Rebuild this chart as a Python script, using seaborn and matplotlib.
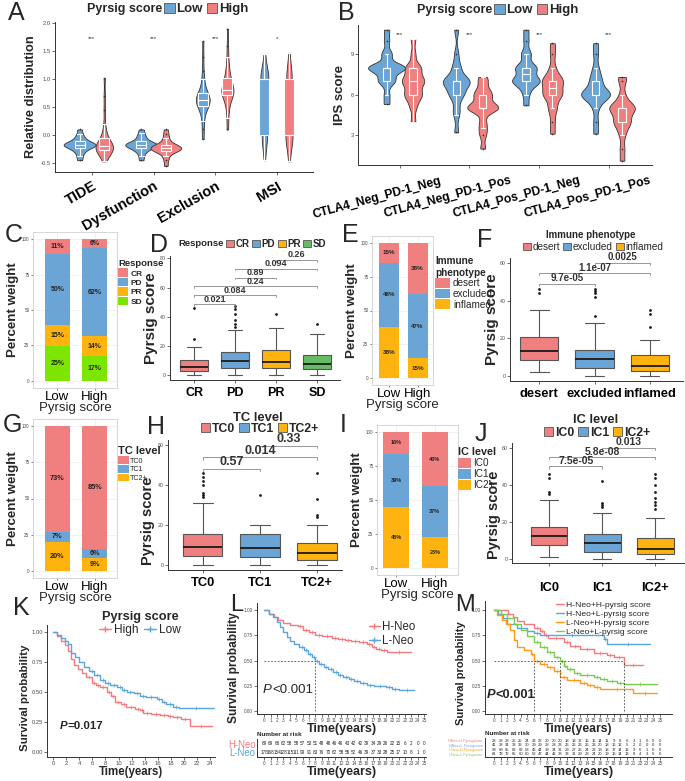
import numpy as np
import pandas as pd
import matplotlib
matplotlib.use("Agg")
import matplotlib.pyplot as plt
import seaborn as sns
from matplotlib.patches import Patch
from matplotlib.lines import Line2D
from matplotlib.transforms import ScaledTranslation

sns.set_theme(style="white")
plt.rcParams['font.family'] = ['Liberation Sans', 'DejaVu Sans']

W, H = 685, 781
RED = "#F08080"
BLUE = "#6AA5D5"
GOLD = "#FFB30F"
LIME = "#7CE600"
GREEN = "#66BB66"
KRED = "#F47A7E"
KBLUE = "#5AA5DC"
KORANGE = "#FF9A1A"
KGREEN = "#7CCB50"

# ---------------- data ----------------
# A: TIDE analysis
a_vars = ['TIDE', 'Dysfunction', 'Exclusion', 'MSI']
a_sig = ['***', '***', '***', '*']
tide_low = [-0.45, -0.38, -0.32, -0.28, -0.25, -0.23, -0.21, -0.2, -0.19, -0.18, -0.17, -0.16, -0.15,
            -0.14, -0.12, -0.1, -0.07, -0.03, 0.02, 0.1]
tide_high = [-0.47, -0.4, -0.35, -0.31, -0.29, -0.27, -0.26, -0.25, -0.24, -0.23, -0.22, -0.21, -0.2,
             -0.19, -0.18, -0.16, -0.14, -0.1, -0.05, 0.0, 0.05, 0.2, 0.45, 0.7, 1.02]
dys_low = [-0.45, -0.37, -0.31, -0.27, -0.25, -0.23, -0.21, -0.2, -0.19, -0.18, -0.17, -0.16, -0.15,
           -0.14, -0.12, -0.1, -0.06, -0.02, 0.03, 0.1]
dys_high = [-0.55, -0.45, -0.38, -0.33, -0.3, -0.28, -0.27, -0.26, -0.25, -0.24, -0.23, -0.22, -0.21,
            -0.2, -0.18, -0.17, -0.15, -0.1, -0.05, 0.02, 0.1]
exc_low = [-0.07, 0.1, 0.25, 0.38, 0.45, 0.49, 0.52, 0.55, 0.57, 0.59, 0.61, 0.62, 0.63, 0.65, 0.67,
           0.69, 0.71, 0.73, 0.75, 0.82, 0.9, 1.0, 1.15, 1.4, 1.68]
exc_high = [0.1, 0.3, 0.45, 0.55, 0.62, 0.67, 0.72, 0.74, 0.76, 0.77, 0.78, 0.79, 0.8, 0.83, 0.86,
            0.9, 0.94, 0.98, 1.02, 1.08, 1.15, 1.25, 1.4, 1.6, 1.9]
msi_low = [-0.45, -0.2, 0, 0, 0, 0, 0, 0.5, 1, 1, 1, 1, 1, 1, 1, 1, 1.2, 1.45]
msi_high = [-0.47, -0.25, 0, 0, 0, 0, 0, 0, 0, 0.5, 1, 1, 1, 1, 1, 1.2, 1.47]

# B: IPS score
b_groups = ['CTLA4_Neg_PD-1_Neg', 'CTLA4_Neg_PD-1_Pos', 'CTLA4_Pos_PD-1_Neg', 'CTLA4_Pos_PD-1_Pos']
ips_nn_low = [5.3, 6, 7, 7, 7, 7.5, 8, 8, 8, 8, 8, 8, 8, 9, 9, 10, 10.8]
ips_nn_high = [4, 5, 5.5, 6, 6, 6, 6.5, 7, 7, 7, 7, 7.5, 8, 8, 8, 9, 10.1]
ips_np_low = [3.2, 4.5, 5, 6, 6, 6, 6.5, 7, 7, 7, 7, 7, 7, 8, 8, 9, 10.8]
ips_np_high = [2, 3, 3.5, 4, 5, 5, 5, 5, 5, 5, 5.5, 6, 6, 6, 6.5, 7, 7.3]
ips_pn_low = [5.2, 6, 6.5, 7, 7, 7, 7, 7, 7.5, 8, 8, 8, 8, 9, 9, 10, 10.8]
ips_pn_high = [3.1, 4, 5, 5, 6, 6, 6, 6, 6.5, 7, 7, 7, 7, 7.5, 8, 9, 9.8]
ips_pp_low = [3.1, 4, 5, 5.5, 6, 6, 6, 6, 6, 6, 6.5, 7, 7, 7.5, 8, 9, 9.8]
ips_pp_high = [1.1, 2, 3, 3.5, 4, 4, 4, 4.5, 5, 5, 5, 5, 5, 5.5, 6, 7, 7.3]

# C / E / G / I: percent composition (Low, High)
resp_levels = ['CR', 'PD', 'PR', 'SD']
resp_low = [10.7, 50.0, 14.6, 24.7]
resp_high = [6.2, 62.4, 14.0, 17.4]
pheno_levels = ['desert', 'excluded', 'inflamed']
pheno_low = [14.6, 47.6, 37.8]
pheno_high = [38.0, 47.0, 15.0]
tc_levels = ['TC0', 'TC1', 'TC2+']
tc_low = [73.0, 7.0, 20.0]
tc_high = [85.0, 6.0, 9.0]
ic_levels = ['IC0', 'IC1', 'IC2+']
ic_low = [16.0, 39.0, 45.0]
ic_high = [40.0, 37.0, 23.0]

# D: Pyrsig score by response
d_cr = [0, 0.5, 1, 2, 2.5, 3, 4, 5, 5.5, 6.5, 8, 9, 10.5, 14, 19, 25, 46]
d_pd = [0, 1, 2, 3, 3.5, 4, 4.5, 4.8, 5, 5.5, 6, 6.5, 7, 7.8, 8.5, 9, 9.5, 10, 11, 11.5, 12, 13, 14,
        15, 15.5, 22, 31, 33, 35, 38, 42, 45, 47]
d_pr = [0, 1.5, 3, 4, 5, 6, 7, 8, 9, 11, 13, 15, 17, 20, 26, 32, 42]
d_sd = [0, 1, 2, 3, 4, 5, 6, 7, 7.5, 9, 11, 12.5, 14, 18, 22, 28, 35]
d_tests = [('CR', 'PD', '0.021'), ('CR', 'PR', '0.084'), ('CR', 'SD', '0.24'),
           ('PD', 'PR', '0.89'), ('PD', 'SD', '0.094'), ('PR', 'SD', '0.26')]

# F: Pyrsig score by immune phenotype
f_desert = [2, 4, 6, 7.5, 8.5, 10, 11.5, 12.5, 13.5, 15, 17, 19, 20.5, 25, 35, 44, 46]
f_excluded = [0, 0.5, 1.5, 2.5, 3, 3.5, 4, 4.5, 5, 6, 6.5, 7, 7.5, 8.5, 9, 9.5, 10, 11, 11.5, 12.5,
              13, 14, 18, 28, 32, 42, 44, 45, 46]
f_inflamed = [0, 0.5, 1, 2, 2.5, 3, 4, 5, 5.5, 6.5, 8, 9.5, 11, 19, 26, 33, 35]
f_tests = [('desert', 'excluded', '9.7e-05'), ('desert', 'inflamed', '1.1e-07'),
           ('excluded', 'inflamed', '0.0025')]

# H: Pyrsig score by TC level
h_tc0 = [0, 0.5, 1, 2, 2.5, 3, 3.5, 4, 4.5, 5, 5.5, 6, 6.5, 7, 7.5, 8, 9, 10, 11, 11.5, 12, 13, 14,
         15, 15.5, 31, 34, 35, 36, 40, 42, 44, 46]
h_tc1 = [0, 1, 2, 3, 4, 5, 6, 7, 8.5, 10, 12, 14, 15.5, 17, 18.5, 20, 35]
h_tc2 = [0, 0.5, 1, 1.5, 2, 2.5, 3, 3.5, 4, 5, 6, 7, 8, 9, 10, 11, 20, 24, 25, 33, 46]
h_tests = [('TC0', 'TC1', '0.57'), ('TC0', 'TC2+', '0.014'), ('TC1', 'TC2+', '0.33')]

# J: Pyrsig score by IC level
j_ic0 = [1, 2.5, 4, 5.5, 6.5, 7.5, 8.5, 9.5, 10.5, 11.5, 12.5, 13.5, 14.5, 15.5, 16.5, 17.5,
         32, 35, 36, 44, 46]
j_ic1 = [0, 0.5, 1.5, 2.5, 3, 4, 5, 6, 7, 8, 8.5, 9.5, 10.5, 11.5, 12.5, 13.5, 25, 28, 29, 30, 42]
j_ic2 = [0, 0.3, 0.6, 1, 1.3, 1.6, 1.9, 2.1, 2.3, 2.5, 3, 3.3, 3.6, 4, 4.3, 4.6, 5, 5.2, 5.5,
         6, 6.5, 7, 7.5, 8, 8.8, 9.6, 10.5, 11.5, 22, 27, 29, 31, 33, 36, 40, 44, 46]
j_tests = [('IC0', 'IC1', '7.5e-05'), ('IC0', 'IC2+', '5.8e-08'), ('IC1', 'IC2+', '0.013')]

# K: survival by Pyrsig score
k_high_t = [0, 0.6, 1.2, 1.8, 2.3, 2.7, 3.2, 3.8, 4.4, 5.1, 5.9, 6.6, 7.2, 8.2, 8.8, 9.5, 10.4, 11.2,
            12.5, 13.3, 13.8, 15.0, 16.3, 17.5, 18.3, 19.5, 20.9, 24.3]
k_high_s = [1.0, 0.97, 0.93, 0.89, 0.84, 0.78, 0.73, 0.69, 0.66, 0.63, 0.58, 0.56, 0.54, 0.50, 0.47,
            0.42, 0.40, 0.375, 0.36, 0.35, 0.33, 0.32, 0.31, 0.30, 0.29, 0.28, 0.22, 0.22]
k_low_t = [0, 0.6, 1.2, 1.8, 2.3, 2.8, 3.3, 4.0, 4.7, 5.5, 6.3, 7.2, 8.0, 8.7, 9.8, 10.5, 11.3, 12.3,
           13.2, 14.2, 15.8, 16.6, 17.3, 18.3, 19.2, 24.5]
k_low_s = [1.0, 0.98, 0.95, 0.93, 0.90, 0.83, 0.79, 0.75, 0.71, 0.68, 0.64, 0.60, 0.58, 0.56, 0.54,
           0.52, 0.50, 0.49, 0.47, 0.46, 0.44, 0.42, 0.40, 0.38, 0.37, 0.37]
k_pval = 'P=0.017'

# L: survival by neoantigen
l_hneo_t = [0, 0.8, 1.5, 2.2, 3.0, 4.0, 5.2, 6.0, 7.0, 8.0, 9.0, 10.6, 11.5, 12.7, 13.6, 14.8, 16.0,
            16.8, 17.5, 18.3, 19.2, 23.0]
l_hneo_s = [1.0, 0.96, 0.93, 0.90, 0.87, 0.85, 0.84, 0.80, 0.78, 0.75, 0.74, 0.72, 0.71, 0.70, 0.69,
            0.68, 0.66, 0.63, 0.61, 0.60, 0.58, 0.58]
l_lneo_t = [0, 0.7, 1.4, 2.0, 2.5, 3.0, 3.5, 4.0, 4.6, 5.5, 6.2, 6.8, 7.5, 8.0, 8.6, 9.3, 10.0, 10.8,
            11.5, 12.3, 13.2, 14.0, 15.0, 16.0, 17.2, 19.0, 20.0, 21.0, 23.5]
l_lneo_s = [1.0, 0.96, 0.93, 0.88, 0.83, 0.78, 0.73, 0.69, 0.66, 0.63, 0.60, 0.56, 0.53, 0.50, 0.47,
            0.44, 0.42, 0.39, 0.36, 0.34, 0.32, 0.30, 0.28, 0.26, 0.25, 0.24, 0.22, 0.21, 0.21]
l_risk_hneo = [69, 69, 66, 62, 58, 58, 57, 53, 51, 48, 48, 46, 46, 43, 42, 42, 39, 34, 29, 26, 22,
               15, 6, 2, 0, 0]
l_risk_lneo = [178, 168, 154, 128, 115, 111, 99, 91, 83, 76, 70, 62, 58, 55, 52, 46, 39, 37, 33, 28,
               25, 17, 10, 8, 1, 0]
l_pval = 'P<0.001'

# M: combined neoantigen + Pyrsig score
m_labels = ['H-Neo+H-pyrsig score', 'H-Neo+L-pyrsig score', 'L-Neo+H-pyrsig score',
            'L-Neo+L-pyrsig score']
m_row_names = ['H-Neo+H-Pyrsigscore', 'H-Neo+L-Pyrsigscore', 'L-Neo+H-Pyrsigscore',
               'L-Neo+L-Pyrsigscore']
m_hh_t = [0, 2.1, 2.8, 3.5, 4.5, 6.0, 7.0, 7.5, 8.2, 10.5, 11.5, 13.0, 15.0, 17.0, 18.0, 19.5, 22.5]
m_hh_s = [1.0, 0.96, 0.93, 0.89, 0.86, 0.82, 0.79, 0.75, 0.72, 0.68, 0.64, 0.61, 0.57, 0.55, 0.53,
          0.46, 0.46]
m_hl_t = [0, 0.6, 1.3, 2.0, 3.5, 5.0, 6.0, 7.0, 16.5, 17.0, 23.5]
m_hl_s = [1.0, 0.96, 0.92, 0.86, 0.82, 0.79, 0.77, 0.75, 0.71, 0.66, 0.66]
m_lh_t = [0, 0.5, 1.2, 1.8, 2.4, 3.0, 3.5, 4.5, 5.5, 6.0, 7.0, 8.0, 9.0, 10.0, 11.0, 13.0, 14.0, 15.0,
          16.0, 21.0, 24.5]
m_lh_s = [1.0, 0.95, 0.90, 0.86, 0.80, 0.70, 0.63, 0.60, 0.56, 0.50, 0.47, 0.44, 0.40, 0.34, 0.31,
          0.28, 0.26, 0.24, 0.22, 0.18, 0.18]
m_ll_t = [0, 1.0, 2.0, 3.0, 4.0, 5.0, 6.0, 7.0, 8.0, 9.0, 10.0, 10.5, 11.0, 12.0, 13.0, 15.0, 16.0,
          17.0, 18.5, 19.5, 24.5]
m_ll_s = [1.0, 0.96, 0.92, 0.86, 0.80, 0.74, 0.68, 0.63, 0.58, 0.53, 0.50, 0.45, 0.42, 0.38, 0.36,
          0.34, 0.32, 0.30, 0.28, 0.27, 0.27]
m_risk_hh = [28, 28, 28, 25, 25, 24, 23, 22, 20, 20, 20, 18, 18, 17, 15, 15, 14, 11, 9, 8, 6, 3, 1,
             0, 0, 0]
m_risk_hl = [41, 38, 34, 33, 33, 30, 29, 29, 28, 28, 28, 26, 26, 26, 25, 23, 20, 18, 16, 12, 5, 2, 0,
             0, 0, 0]
m_risk_lh = [98, 69, 65, 62, 62, 53, 46, 44, 39, 34, 31, 29, 27, 26, 24, 22, 19, 18, 17, 14, 12, 9, 6,
             1, 0, 0]
m_risk_ll = [81, 78, 72, 65, 60, 60, 52, 47, 44, 42, 38, 33, 31, 29, 28, 24, 20, 19, 16, 14, 13, 8, 4,
             3, 0, 0]
m_pval = 'P<0.001'

# ---------------- figure ----------------
fig = plt.figure(figsize=(W / 100, H / 100), dpi=100)


def px_ax(l, t, r, b):
    return fig.add_axes([l / W, 1 - b / H, (r - l) / W, (b - t) / H])


def fx(x):
    return x / W


def fy(y):
    return 1 - y / H


def letter(x, y, s, fs=18):
    fig.text(fx(x), fy(y), s, fontsize=fs, va='top', ha='left')


def classic(ax, tick_fs=4.2):
    for s in ['top', 'right']:
        ax.spines[s].set_visible(False)
    for s in ['left', 'bottom']:
        ax.spines[s].set_color('#333333')
        ax.spines[s].set_linewidth(0.7)
    ax.tick_params(axis='both', length=2, width=0.5, color='#333333', pad=1,
                   labelsize=tick_fs, labelcolor='#4D4D4D', left=True, bottom=True)


def row_legend(x, y, labels, colors, fs, loc='center left', weight='bold'):
    handles = [Patch(facecolor=c, edgecolor='#555555', linewidth=0.6) for c in colors]
    fig.legend(handles, labels, loc=loc, bbox_to_anchor=(fx(x), fy(y)), ncol=len(labels),
               frameon=False, handlelength=0.8, handleheight=0.8, handletextpad=0.15,
               columnspacing=0.3, borderpad=0, borderaxespad=0,
               prop={'size': fs, 'weight': weight})


def p_text(ax, x, y, s, fs, weight):
    t1 = ax.text(x, y, s[0], fontsize=fs, fontweight=weight, fontstyle='italic', va='center')
    ax.annotate(s[1:], xy=(1, 0.5), xycoords=t1, va='center', ha='left', fontsize=fs,
                fontweight=weight)


def violin_panel(ax, groups, data, offs, vwidth, bwidth, bw):
    rows = []
    for gi, g in enumerate(groups):
        for lev, off in zip(['Low', 'High'], offs):
            for v in data[(g, lev)]:
                rows.append((gi + off, lev, v))
    df = pd.DataFrame(rows, columns=['pos', 'grp', 'val'])
    pal = {'Low': BLUE, 'High': RED}
    sns.violinplot(data=df, x='pos', y='val', hue='grp', hue_order=['Low', 'High'], palette=pal,
                   native_scale=True, dodge=False, width=vwidth, cut=0, density_norm='area',
                   common_norm=True, inner=None, linewidth=0.6, linecolor='#333333',
                   bw_adjust=bw, saturation=1, legend=False, ax=ax)
    sns.boxplot(data=df, x='pos', y='val', hue='grp', hue_order=['Low', 'High'], palette=pal,
                native_scale=True, dodge=False, width=bwidth, linecolor='white', linewidth=0.8,
                saturation=1, legend=False, ax=ax,
                flierprops=dict(marker='o', markersize=1.2, markerfacecolor='#333333',
                                markeredgecolor='none'))
    ax.set_xticks(range(len(groups)))
    ax.set_xlabel('')


# ---- A ----
letter(8, 1, 'A')
axA = px_ax(55, 22, 313, 172)
a_data = {('TIDE', 'Low'): tide_low, ('TIDE', 'High'): tide_high,
          ('Dysfunction', 'Low'): dys_low, ('Dysfunction', 'High'): dys_high,
          ('Exclusion', 'Low'): exc_low, ('Exclusion', 'High'): exc_high,
          ('MSI', 'Low'): msi_low, ('MSI', 'High'): msi_high}
violin_panel(axA, a_vars, a_data, (-0.2, 0.2), 1.3, 0.4, 0.6)
classic(axA)
axA.set_xlim(-0.6, 3.59)
axA.set_ylim(-0.66, 2.02)
axA.set_yticks([-0.5, 0.0, 0.5, 1.0, 1.5, 2.0])
axA.set_yticklabels(['-0.5', '0.0', '0.5', '1.0', '1.5', '2.0'])
axA.set_xticklabels(a_vars, rotation=30, ha='right', rotation_mode='anchor')
axA.tick_params(axis='x', labelcolor='black', labelsize=10.5, pad=3)
for lab in axA.get_xticklabels():
    lab.set_fontweight('bold')
axA.set_ylabel('Relative distribution', fontsize=9.2, fontweight='bold', labelpad=3)
for i, s in enumerate(a_sig):
    axA.text(i, 1.72, s, ha='center', va='center', fontsize=4.5, color='#333333')
fig.text(fx(87), fy(9), 'Pyrsig score', fontsize=9, fontweight='bold', va='center')
row_legend(164, 9, ['Low', 'High'], [BLUE, RED], 9.5)

# ---- B ----
letter(338, 1, 'B')
axB = px_ax(358, 25, 652, 165)
b_data = {}
for g, lo, hi in zip(b_groups, [ips_nn_low, ips_np_low, ips_pn_low, ips_pp_low],
                     [ips_nn_high, ips_np_high, ips_pn_high, ips_pp_high]):
    b_data[(g, 'Low')] = lo
    b_data[(g, 'High')] = hi
violin_panel(axB, b_groups, b_data, (-0.19, 0.19), 1.4, 0.28, 0.45)
classic(axB)
axB.set_xlim(-0.6, 3.62)
axB.set_ylim(0.78, 11.15)
axB.set_yticks([3, 6, 9])
axB.set_xticklabels(b_groups, rotation=15, ha='right', rotation_mode='anchor')
axB.tick_params(axis='x', labelcolor='black', labelsize=8.7, pad=5)
shift = ScaledTranslation(0.4, 0, fig.dpi_scale_trans)
for lab in axB.get_xticklabels():
    lab.set_fontweight('bold')
    lab.set_transform(lab.get_transform() + shift)
axB.set_ylabel('IPS score', fontsize=9.5, fontweight='bold', labelpad=3)
for i in range(len(b_groups)):
    axB.text(i, 10.45, '***', ha='center', va='center', fontsize=4.5, color='#333333')
fig.text(fx(417), fy(10), 'Pyrsig score', fontsize=9, fontweight='bold', va='center')
row_legend(494, 10, ['Low', 'High'], [BLUE, RED], 9.5)


# ---- stacked bars ----
def stacked_panel(ax, levels, low, high, colors, width, lab_fs):
    low = np.array(low)
    high = np.array(high)
    cum_low = np.cumsum(low[::-1])[::-1]
    cum_high = np.cumsum(high[::-1])[::-1]
    for i, c in enumerate(colors):
        sns.barplot(x=['Low', 'High'], y=[cum_low[i], cum_high[i]], color=c, width=width,
                    saturation=1, edgecolor='none', linewidth=0, ax=ax, zorder=2)
    for j, (vals, cums) in enumerate([(low, cum_low), (high, cum_high)]):
        for v, cu in zip(vals, cums):
            ax.text(j, cu - v / 2, f'{v:.0f}%', ha='center', va='center', fontsize=lab_fs,
                    fontweight='bold', color='#222222', zorder=3)
    ax.set_ylim(-5, 105)
    ax.set_yticks([0, 25, 50, 75, 100])
    ax.grid(True, color='#EBEBEB', linewidth=0.5, zorder=0)
    ax.set_axisbelow(True)
    for s in ax.spines.values():
        s.set_color('#D0D0D0')
        s.set_linewidth(0.6)
    ax.tick_params(axis='y', length=1.5, width=0.4, labelsize=3.3, pad=1, labelcolor='#4D4D4D',
                   left=True)
    ax.tick_params(axis='x', length=1.5, width=0.4, labelsize=9.5, pad=1, labelcolor='black',
                   bottom=True)
    ax.set_xlabel('Pyrsig score', fontsize=9.5, labelpad=-1)
    ax.set_ylabel('Percent weight', fontsize=9.6, fontweight='bold', labelpad=2)


def side_legend(x, y, title, labels, colors, fs, tfs, hl=1.3, hh=1.0, weight='bold', tp=0.3):
    handles = [Patch(facecolor=c, edgecolor='none') for c in colors]
    leg = fig.legend(handles, labels, loc='upper left', bbox_to_anchor=(fx(x), fy(y)),
                     frameon=False, title=title, handlelength=hl, handleheight=hh,
                     handletextpad=tp, labelspacing=0.05, borderpad=0, borderaxespad=0,
                     prop={'size': fs, 'weight': weight},
                     title_fontproperties={'size': tfs, 'weight': 'bold'})
    leg._legend_box.align = 'left'


letter(5, 223, 'C')
axC = px_ax(33, 232, 117, 388)
stacked_panel(axC, resp_levels, resp_low, resp_high, [RED, BLUE, GOLD, LIME], 0.67, 5)
axC.set_xlim(-0.65, 1.59)
side_legend(118, 259, 'Response', resp_levels, [RED, BLUE, GOLD, LIME], 6, 6.8, hl=1.2, hh=1.2)

letter(342, 223, 'E')
axE = px_ax(372, 236, 433, 385)
stacked_panel(axE, pheno_levels, pheno_low, pheno_high, [RED, BLUE, GOLD], 0.7, 4.5)
axE.set_xlim(-0.6, 1.54)
side_legend(435, 256, 'Immune\nphenotype', pheno_levels, [RED, BLUE, GOLD], 7.2, 7.2, hl=1.5,
            hh=1.1, weight='normal')

letter(3, 413, 'G')
axG = px_ax(33, 419, 117, 578)
stacked_panel(axG, tc_levels, tc_low, tc_high, [RED, BLUE, GOLD], 0.67, 5.3)
axG.set_xlim(-0.65, 1.59)
side_legend(118, 446, 'TC level', tc_levels, [RED, BLUE, GOLD], 5.1, 8.0, hl=1.5, hh=1.3,
            weight='normal', tp=0.2)

letter(340, 413, 'I')
axI = px_ax(377, 425, 458, 575)
stacked_panel(axI, ic_levels, ic_low, ic_high, [RED, BLUE, GOLD], 0.67, 4)
axI.set_xlim(-0.5, 1.6)
side_legend(458, 447, 'IC level', ic_levels, [RED, BLUE, GOLD], 7.2, 7.8, hl=1.3, hh=1.2,
            weight='normal', tp=0.2)


# ---- box plots ----
def box_panel(ax, cats, vals, colors, tests, base, step, bfs, xfs, lpad=1, yfs=11):
    df = pd.DataFrame({'cat': np.repeat(cats, [len(v) for v in vals]),
                       'val': np.concatenate(vals)})
    sns.boxplot(data=df, x='cat', y='val', hue='cat', order=cats, hue_order=cats, palette=colors,
                width=0.69, linecolor='#555555', linewidth=0.8, saturation=1, legend=False, ax=ax,
                medianprops=dict(color='#1A1A1A', linewidth=1.3),
                flierprops=dict(marker='o', markersize=2, markerfacecolor='#1A1A1A',
                                markeredgecolor='none'))
    classic(ax, tick_fs=3.8)
    ax.tick_params(axis='x', labelsize=xfs, labelcolor='black', pad=3)
    for lab in ax.get_xticklabels():
        lab.set_fontweight('bold')
    ax.set_xlabel('')
    ax.set_ylabel('Pyrsig score', fontsize=yfs, fontweight='bold', labelpad=lpad)
    for i, (a, b, p) in enumerate(tests):
        xa, xb = cats.index(a), cats.index(b)
        y = base + step * i
        ax.plot([xa, xa, xb, xb], [y - 1.2, y, y, y - 1.2], color='#888888', lw=0.6,
                clip_on=False)
        ax.text((xa + xb) / 2, y + 0.3, p, ha='center', va='bottom', fontsize=bfs,
                fontweight='bold', color='#333333', clip_on=False)


letter(150, 233, 'D')
axD = px_ax(170, 256, 340, 380)
box_panel(axD, resp_levels, [d_cr, d_pd, d_pr, d_sd], [RED, BLUE, GOLD, GREEN], d_tests, 48.5,
          6.1, 6.5, 9)
axD.set_xlim(-0.59, 3.56)
axD.set_ylim(-3.4, 81.6)
axD.set_yticks([0, 20, 40, 60, 80])
fig.text(fx(178), fy(244), 'Response', fontsize=6.8, fontweight='bold', va='center')
row_legend(226, 244, resp_levels, [RED, BLUE, GOLD, GREEN], 7)

letter(477, 228, 'F')
axF = px_ax(510, 258, 683, 381)
box_panel(axF, pheno_levels, [f_desert, f_excluded, f_inflamed], [RED, BLUE, GOLD], f_tests, 49,
          5.5, 7, 9.3)
axF.set_xlim(-0.53, 2.6)
axF.set_ylim(-2.6, 62.5)
axF.set_yticks([0, 20, 40, 60])
fig.text(fx(591), fy(235), 'Immune phenotype', fontsize=7, fontweight='bold', va='center',
         ha='center')
row_legend(593, 247, pheno_levels, [RED, BLUE, GOLD], 7.2, loc='center', weight='normal')

letter(147, 415, 'H')
axH = px_ax(168, 440, 342, 570)
box_panel(axH, tc_levels, [h_tc0, h_tc1, h_tc2], [RED, BLUE, GOLD], h_tests, 48, 5.8, 9, 9.3,
          lpad=-1, yfs=10.5)
axH.set_xlim(-0.61, 2.44)
axH.set_ylim(-2.5, 62.5)
axH.set_yticks([0, 20, 40, 60])
axH.yaxis.set_label_coords(-0.075, 0.38)
fig.text(fx(258), fy(418), 'TC level', fontsize=9.4, fontweight='bold', va='center', ha='center')
row_legend(260, 429, tc_levels, [RED, BLUE, GOLD], 8.8, loc='center')

letter(475, 422, 'J')
axJ = px_ax(512, 443, 685, 563)
box_panel(axJ, ic_levels, [j_ic0, j_ic1, j_ic2], [RED, BLUE, GOLD], j_tests, 50, 5.0, 7.5, 9.3,
          lpad=-1, yfs=10.5)
axJ.set_xlim(-0.7, 2.56)
axJ.set_ylim(-2.2, 62.7)
axJ.set_yticks([0, 20, 40, 60])
axJ.yaxis.set_label_coords(-0.062, 0.4)
axJ.tick_params(axis='x', pad=12)
fig.text(fx(596), fy(420), 'IC level', fontsize=9.3, fontweight='bold', va='center', ha='center')
row_legend(597, 433, ic_levels, [RED, BLUE, GOLD], 8.8, loc='center')


# ---- survival ----
def km_curve(ax, t, s, color, label):
    sns.lineplot(x=t, y=s, drawstyle='steps-post', color=color, linewidth=1.0, ax=ax,
                 label=label, legend=False, estimator=None, sort=False)
    # censoring ticks on the later plateau steps
    tt = np.array(t)
    ss = np.array(s)
    marks = (tt[1:] + tt[:-1]) / 2
    marks = marks[tt[:-1] > 5]
    mk_y = ss[np.searchsorted(tt, marks, side='right') - 1]
    ax.plot(marks, mk_y, ls='none', marker='+', ms=2.5, mew=0.5, color=color)


def median_lines(ax, curves):
    meds = []
    for t, s in curves:
        idx = np.nonzero(np.array(s) <= 0.5)[0]
        if len(idx):
            meds.append(t[idx[0]])
    if not meds:
        return
    ax.plot([0, max(meds)], [0.5, 0.5], ls=(0, (2, 2)), color='#444444', lw=0.6)
    for m in meds:
        ax.plot([m, m], [0, 0.5], ls=(0, (2, 2)), color='#444444', lw=0.6)


def km_axes(ax, xmax_tick, step, lab_fs, time_fs, ly=0.45):
    classic(ax, tick_fs=3.4)
    ax.set_yticks([0, 0.25, 0.5, 0.75, 1.0])
    ax.set_yticklabels(['0.00', '0.25', '0.50', '0.75', '1.00'])
    ax.set_xticks(range(0, xmax_tick + 1, step))
    ax.set_ylabel('Survival probability', fontsize=lab_fs, fontweight='bold', labelpad=2)
    ax.yaxis.set_label_coords(-0.1, ly)
    ax.set_xlabel('Time(years)', fontsize=time_fs, fontweight='bold', labelpad=0)


letter(13, 596, 'K')
axK = px_ax(47, 625, 215, 757)
km_curve(axK, k_high_t, k_high_s, KRED, 'High')
km_curve(axK, k_low_t, k_low_s, KBLUE, 'Low')
km_axes(axK, 24, 2, 8.2, 8.3)
axK.tick_params(labelsize=4.2)
axK.set_xlim(-0.9, 24.7)
axK.set_ylim(-0.04, 1.06)
p_text(axK, 1.1, 0.22, k_pval, 8.2, 'bold')
kh = [Line2D([], [], color=KRED, marker='+', ms=4, lw=1),
      Line2D([], [], color=KBLUE, marker='+', ms=4, lw=1)]
fig.legend(kh, ['High', 'Low'], loc='upper center', bbox_to_anchor=(fx(140), fy(605)), ncol=2,
           frameon=False, title='Pyrsig score', handlelength=1.0, handletextpad=0.2,
           columnspacing=0.5, borderpad=0, labelspacing=0.1, prop={'size': 8.6},
           title_fontproperties={'size': 9.2, 'weight': 'bold'})

letter(230, 594, 'L', 17)
axL = px_ax(257, 603, 426, 714)
km_curve(axL, l_hneo_t, l_hneo_s, KRED, 'H-Neo')
km_curve(axL, l_lneo_t, l_lneo_s, KBLUE, 'L-Neo')
median_lines(axL, [(l_hneo_t, l_hneo_s), (l_lneo_t, l_lneo_s)])
km_axes(axL, 25, 1, 8.6, 9, ly=0.42)
axL.set_xlim(-1.14, 25.3)
axL.set_ylim(-0.03, 1.07)
p_text(axL, -0.2, 0.21, l_pval, 9.5, 'normal')
lh = [Line2D([], [], color=KRED, marker='+', ms=4, lw=1),
      Line2D([], [], color=KBLUE, marker='+', ms=4, lw=1)]
axL.legend(lh, ['H-Neo', 'L-Neo'], loc='upper right', bbox_to_anchor=(1.0, 0.93), frameon=False,
           handlelength=1.0, handletextpad=0.2, labelspacing=0.2, prop={'size': 8.3})


def risk_table(ax, rows, names, colors, xlim, name_fs, num_fs):
    n = len(rows)
    for r, vals in enumerate(rows):
        yy = n - 1 - r
        for x, v in enumerate(vals):
            ax.text(x, yy, str(v), ha='center', va='center', fontsize=num_fs, color='#222222')
    ax.set_xlim(*xlim)
    ax.set_ylim(-0.6, n - 0.4)
    ax.set_yticks(range(n))
    ax.set_yticklabels(names[::-1])
    classic(ax, tick_fs=3.4)
    ax.tick_params(axis='y', labelsize=name_fs, length=0)
    for lab, c in zip(ax.get_yticklabels(), colors[::-1]):
        lab.set_color(c)
    ax.set_xticks(range(0, 26))
    ax.set_xlabel('Time(years)', fontsize=9, fontweight='bold', labelpad=0)
    ax.text(0, 1.12, 'Number at risk', transform=ax.transAxes, fontsize=4.6, fontweight='bold',
            va='bottom')


axLr = px_ax(257, 739, 426, 757)
risk_table(axLr, [l_risk_hneo, l_risk_lneo], ['H-Neo', 'L-Neo'], [KRED, KBLUE], (-1.14, 25.3),
           6.9, 3.3)

letter(455, 594, 'M', 17)
axM = px_ax(485, 601, 672, 714)
m_curves = [(m_hh_t, m_hh_s, KRED), (m_hl_t, m_hl_s, KBLUE), (m_lh_t, m_lh_s, KORANGE),
            (m_ll_t, m_ll_s, KGREEN)]
for (t, s, c), lab in zip(m_curves, m_labels):
    km_curve(axM, t, s, c, lab)
median_lines(axM, [(t, s) for t, s, c in m_curves])
km_axes(axM, 25, 1, 8.0, 8.8, ly=0.36)
axM.set_xlim(-1.35, 26.8)
axM.set_ylim(-0.03, 1.09)
p_text(axM, -1.05, 0.16, m_pval, 9.3, 'bold')
mh = [Line2D([], [], color=c, lw=1) for t, s, c in m_curves]
axM.legend(mh, m_labels, loc='upper left', bbox_to_anchor=(0.34, 1.07), frameon=False,
           handlelength=0.9, handletextpad=0.3, labelspacing=0.15, prop={'size': 6.1})

axMr = px_ax(485, 738, 672, 757)
risk_table(axMr, [m_risk_hh, m_risk_hl, m_risk_lh, m_risk_ll], m_row_names,
           [KRED, KBLUE, KORANGE, KGREEN], (-1.35, 26.8), 2.6, 3.0)

fig.savefig('out.png', dpi=100, facecolor='white')
